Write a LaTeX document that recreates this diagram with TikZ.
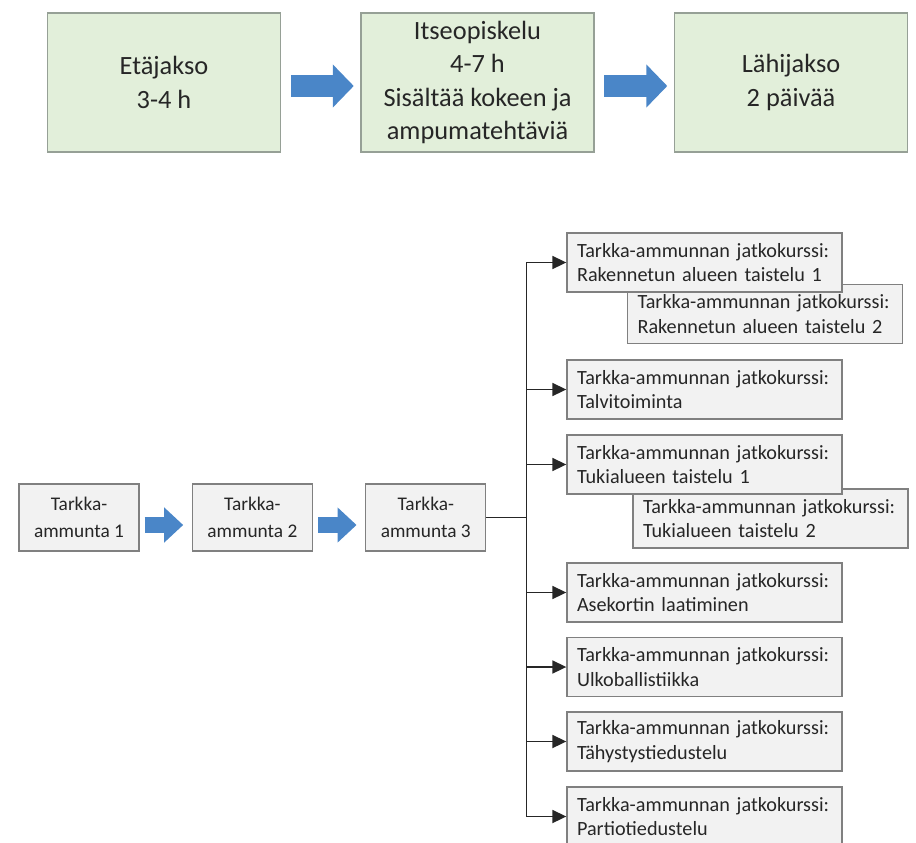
\documentclass[tikz,border=0pt]{standalone}
\usepackage{fontspec}
\setmainfont{Carlito}
\usetikzlibrary{positioning, arrows.meta}
\definecolor{phaseFill}{RGB}{226,239,218}
\definecolor{phaseLine}{RGB}{150,160,150}
\definecolor{stepFill}{RGB}{242,242,242}
\definecolor{stepLine}{RGB}{128,128,128}
\definecolor{flowBlue}{RGB}{74,134,200}
\definecolor{textGrey}{RGB}{38,38,38}
\tikzstyle{phaseBox} = [draw=phaseLine, fill=phaseFill, line width=0.9pt, minimum width=4.66cm, minimum height=2.78cm, align=center, text=textGrey, font=\fontsize{15}{19}\selectfont]
\tikzstyle{stepBox} = [draw=stepLine, fill=stepFill, line width=0.8pt, minimum width=2.4cm, minimum height=1.34cm, align=center, text=textGrey, font=\fontsize{11}{15}\selectfont]
\tikzstyle{courseBoxStyle} = [draw=stepLine, fill=stepFill, line width=0.8pt, text width=5.1cm, inner xsep=0.2cm, minimum height=1.18cm, align=left, text=textGrey, font=\fontsize{11.5}{14}\selectfont]
\tikzstyle{bigFlow} = [flowBlue, line width=0.44cm, -{Triangle[width=0.84cm, length=0.42cm]}, shorten <=0.19cm, shorten >=0.13cm]
\tikzstyle{smallFlow} = [flowBlue, line width=0.32cm, -{Triangle[width=0.68cm, length=0.38cm]}, shorten <=0.1cm, shorten >=0.17cm]
\tikzstyle{branchLine} = [color=textGrey, line width=1pt]
\tikzstyle{branchArrow} = [branchLine, -{Triangle[width=0.26cm, length=0.28cm]}]
\newcommand{\courseBox}[4]{\node [courseBoxStyle] (#1) at (#2,#3) {Tarkka-ammunnan jatkokurssi:\\#4};}

\begin{document}
\begin{tikzpicture}[x=0.02cm, y=-0.02cm]
  \useasboundingbox (0,0) rectangle (916,842);

  % study phases
  \node [phaseBox] (etajakso) at (164,82.5) {Etäjakso\\3-4 h};
  \node [phaseBox, right=1.58cm of etajakso] (itseopiskelu) {Itseopiskelu\\4-7 h\\Sisältää kokeen ja\\ampumatehtäviä};
  \node [phaseBox, right=1.58cm of itseopiskelu] (lahijakso) {Lähijakso\\2 päivää};
  \draw [bigFlow] ([yshift=-0.07cm]etajakso.east) -- ([yshift=-0.07cm]itseopiskelu.west);
  \draw [bigFlow] ([yshift=-0.07cm]itseopiskelu.east) -- ([yshift=-0.07cm]lahijakso.west);

  % basic courses
  \node [stepBox] (ammunta1) at (79,517.5) {Tarkka-\\ammunta 1};
  \node [stepBox, right=1.04cm of ammunta1] (ammunta2) {Tarkka-\\ammunta 2};
  \node [stepBox, right=1.04cm of ammunta2] (ammunta3) {Tarkka-\\ammunta 3};
  \draw [smallFlow] ([yshift=-0.15cm]ammunta1.east) -- ([yshift=-0.15cm]ammunta2.west);
  \draw [smallFlow] ([yshift=-0.15cm]ammunta2.east) -- ([yshift=-0.15cm]ammunta3.west);

  % advanced courses
  \courseBox{rakennettu2}{765}{314}{Rakennetun alueen taistelu 2}
  \courseBox{rakennettu1}{704.5}{262.5}{Rakennetun alueen taistelu 1}
  \courseBox{talvi}{704.5}{389.5}{Talvitoiminta}
  \courseBox{tukialue2}{770.5}{518.5}{Tukialueen taistelu 2}
  \courseBox{tukialue1}{704.5}{464.5}{Tukialueen taistelu 1}
  \courseBox{asekortti}{704.5}{592.5}{Asekortin laatiminen}
  \courseBox{ulkoballistiikka}{704.5}{667}{Ulkoballistiikka}
  \courseBox{tahystys}{704.5}{741.5}{Tähystystiedustelu}
  \courseBox{partio}{704.5}{816.5}{Partiotiedustelu}

  \draw [branchLine] (ammunta3.east) -- ++(0.8cm,0) coordinate (fork);
  \foreach \target in {rakennettu1, talvi, tukialue1, asekortti, ulkoballistiikka, tahystys, partio}
    \draw [branchArrow] (fork) |- (\target.west);
\end{tikzpicture}
\end{document}
